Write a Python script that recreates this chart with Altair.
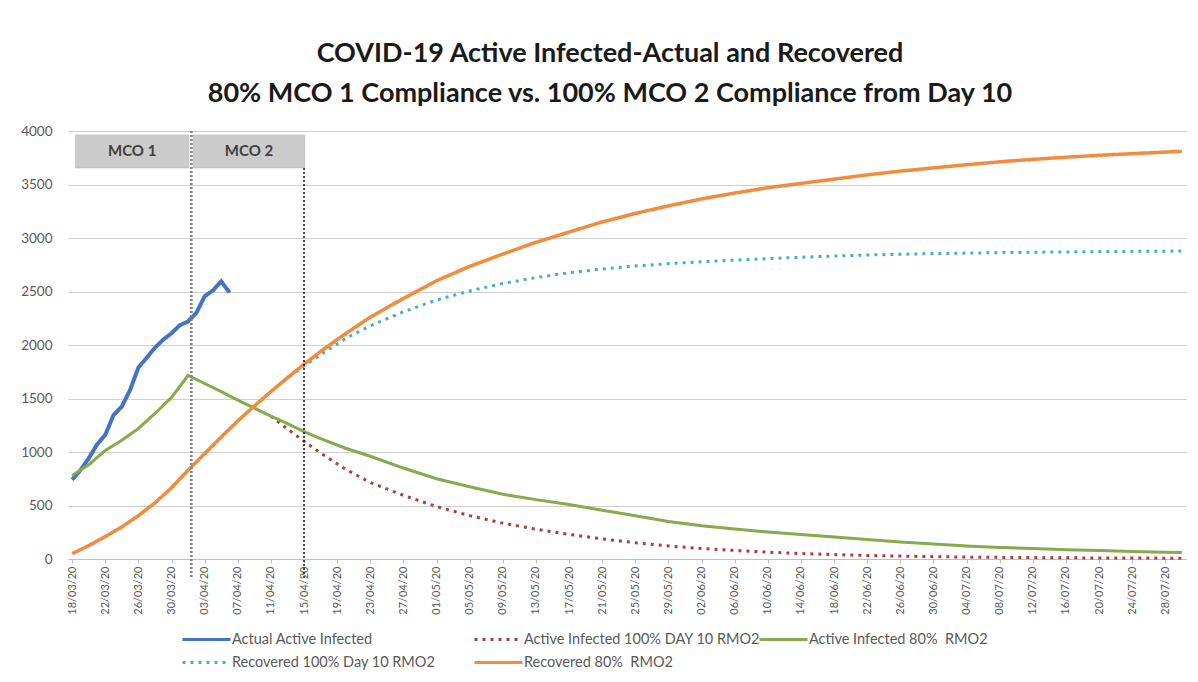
import altair as alt
import pandas as pd

BASE = pd.Timestamp("2020-03-18")

# ---- data ----
NAME_ACTUAL = "Actual Active Infected"
NAME_A100 = "Active Infected 100% DAY 10 RMO2"
NAME_A80 = "Active Infected 80%\u00a0 RMO2"
NAME_R100 = "Recovered 100% Day 10 RMO2"
NAME_R80 = "Recovered 80%\u00a0 RMO2"

# legend A (2 x 2 grid, filled column by column) and legend B (single entry)
legend_a_names = [NAME_ACTUAL, NAME_R100, NAME_A100, NAME_R80]
legend_a_colors = ["#4472C4", "#4BACC6", "#A8403C", "#F28B3C"]
legend_a_dashes = [[1, 0], [3, 5], [3, 5], [1, 0]]
legend_b_names = [NAME_A80]
legend_b_colors = ["#86AA4C"]

# drawing order and widths
draw_order = [NAME_ACTUAL, NAME_A100, NAME_A80, NAME_R100, NAME_R80]
draw_widths = [4, 3, 3, 3, 3.5]

# day offsets from 18/03/20
actual_days = list(range(0, 20))
actual_values = [740, 830, 940, 1070, 1160, 1345, 1425, 1580, 1790, 1880,
                 1975, 2050, 2110, 2185, 2220, 2300, 2455, 2510, 2595, 2490]

model_days = [0, 2, 4, 6, 8, 10, 12, 14, 16, 18, 20, 22, 24, 26, 28, 30, 33, 36,
              40, 44, 48, 52, 56, 60, 64, 68, 72, 76, 80, 84, 88, 92, 96, 100,
              104, 108, 112, 116, 120, 124, 128, 132, 134]

active80 = [780, 880, 1015, 1110, 1220, 1360, 1510, 1715, 1640, 1565, 1485, 1410,
            1335, 1265, 1190, 1125, 1035, 960, 850, 750, 675, 605, 555, 510, 455,
            405, 350, 310, 280, 252, 228, 205, 182, 160, 140, 122, 108, 97, 87, 79,
            71, 64, 60]

active100 = [None] * 12 + [1335, 1215, 1100, 990, 840, 715, 595, 490, 405, 335, 278,
                           230, 188, 152, 122, 98, 80, 64, 51, 41, 33, 27, 22, 18,
                           15, 13, 11, 10, 9, 8, 8]

recovered80 = [50, 125, 210, 300, 405, 525, 665, 830, 985, 1140, 1290, 1430, 1565,
               1695, 1820, 1940, 2105, 2260, 2435, 2600, 2735, 2850, 2960, 3055,
               3150, 3230, 3300, 3365, 3420, 3470, 3510, 3550, 3590, 3625, 3655,
               3685, 3712, 3735, 3755, 3773, 3788, 3803, 3810]

recovered100 = [None] * 12 + [1565, 1690, 1805, 1910, 2060, 2180, 2310, 2420, 2505,
                              2575, 2630, 2675, 2710, 2738, 2760, 2778, 2793, 2807,
                              2820, 2832, 2841, 2848, 2854, 2859, 2863, 2867, 2870,
                              2873, 2875, 2877, 2878]

tick_days = list(range(0, 133, 4))

box_labels = ["MCO 1", "MCO 2"]
box_start_days = [0.4, 14.6]
box_end_days = [14.1, 28.1]
box_top = [3963, 3963]
box_bottom = [3654, 3654]

rule_days = [14.4, 28.0]
rule_top = [4000, 3654]
rule_bottom = [-190, -190]


def day_str(d):
    return (BASE + pd.Timedelta(days=d)).strftime("%Y-%m-%dT%H:%M:%S")


def day_dt(d):
    t = BASE + pd.Timedelta(days=d)
    return alt.DateTime(year=t.year, month=t.month, date=t.day, hours=t.hour)


rows = []
for d, v in zip(actual_days, actual_values):
    rows.append({"date": day_str(d), "value": v, "series": NAME_ACTUAL})
for name, vals in [(NAME_A100, active100), (NAME_A80, active80),
                   (NAME_R100, recovered100), (NAME_R80, recovered80)]:
    for d, v in zip(model_days, vals):
        if v is not None:
            rows.append({"date": day_str(d), "value": v, "series": name})
df = pd.DataFrame(rows)

boxes = pd.DataFrame({
    "label": box_labels,
    "start": [day_str(d) for d in box_start_days],
    "end": [day_str(d) for d in box_end_days],
    "mid": [day_str((a + b) / 2) for a, b in zip(box_start_days, box_end_days)],
    "top": box_top,
    "bottom": box_bottom,
    "center": [(a + b) / 2 for a, b in zip(box_top, box_bottom)],
})

rules = pd.DataFrame({
    "date": [day_str(d) for d in rule_days],
    "top": rule_top,
    "bottom": rule_bottom,
    "id": [0, 1],
})

FONT = "Lato"
GREY = "#595959"

x_scale = alt.Scale(domain=[day_dt(-0.5), day_dt(134.5)])
x_axis = alt.Axis(
    title=None, values=[day_dt(d) for d in tick_days], format="%d/%m/%y",
    labelAngle=270, labelFont=FONT, labelFontSize=11, labelColor=GREY,
    labelPadding=3, tickSize=4, tickColor="#bfbfbf", domainColor="#bfbfbf",
    grid=False, labelOverlap=False,
)
y_scale = alt.Scale(domain=[0, 4000], nice=False)
y_axis = alt.Axis(
    title=None, values=list(range(0, 4001, 500)), domain=False, ticks=False,
    labelFont=FONT, labelFontSize=13.5, labelColor=GREY, labelPadding=16,
    gridColor="#d0d0d0", gridWidth=1, format="d",
)

legend_common = dict(
    title=None, orient="none", legendY=495, rowPadding=3,
    symbolType="M-2,0H2", symbolSize=576, symbolOffset=12, labelOffset=12,
    symbolStrokeWidth=3, labelFont=FONT, labelFontSize=14.5, labelColor=GREY,
    labelLimit=400,
)
legend_a = alt.Legend(legendX=113, columns=2, gridAlign="each", columnPadding=32,
                      **legend_common)
legend_b = alt.Legend(legendX=690, columns=1, **legend_common)

color_scale = alt.Scale(domain=legend_a_names, range=legend_a_colors)
dash_scale = alt.Scale(domain=legend_a_names, range=legend_a_dashes)
stroke_scale = alt.Scale(domain=legend_b_names, range=legend_b_colors)

X = alt.X("date:T", scale=x_scale, axis=x_axis)
Y = alt.Y("value:Q", scale=y_scale, axis=y_axis)

line_layers = []
for name, w in zip(draw_order, draw_widths):
    base = alt.Chart(df).transform_filter(alt.datum.series == name)
    if name in legend_b_names:
        layer = base.mark_line(strokeWidth=w).encode(
            x=X, y=Y,
            stroke=alt.Stroke("series:N", scale=stroke_scale, legend=legend_b),
        )
    else:
        layer = base.mark_line(strokeWidth=w).encode(
            x=X, y=Y,
            color=alt.Color("series:N", scale=color_scale, legend=legend_a),
            strokeDash=alt.StrokeDash("series:N", scale=dash_scale, legend=legend_a),
        )
    line_layers.append(layer)

box_layer = alt.Chart(boxes).mark_rect(fill="#cbcbcb", stroke="#b5b5b5", strokeWidth=0.5).encode(
    x=alt.X("start:T", scale=x_scale, axis=x_axis),
    x2="end:T",
    y=alt.Y("top:Q", scale=y_scale, axis=y_axis),
    y2="bottom:Q",
)
box_text = alt.Chart(boxes).mark_text(
    font=FONT, fontSize=15, fontWeight="bold", color="#404040", baseline="middle"
).encode(
    x=alt.X("mid:T", scale=x_scale, axis=x_axis),
    y=alt.Y("center:Q", scale=y_scale, axis=y_axis),
    text="label:N",
)

rule_base = alt.Chart(rules).encode(
    x=alt.X("date:T", scale=x_scale, axis=x_axis),
    y=alt.Y("top:Q", scale=y_scale, axis=y_axis),
    y2="bottom:Q",
)
rule1 = rule_base.transform_filter(alt.datum.id == 0).mark_rule(
    color="#7f7f7f", strokeWidth=2.5, strokeDash=[2, 2])
rule2 = rule_base.transform_filter(alt.datum.id == 1).mark_rule(
    color="#111111", strokeWidth=1.5, strokeDash=[2, 2])

chart = alt.layer(box_layer, box_text, *line_layers, rule1, rule2).properties(
    width=1118, height=428,
    autosize=alt.AutoSizeParams(type="none"),
    padding={"left": 60, "top": 123, "right": 4, "bottom": 115},
    title=alt.TitleParams(
        text=["COVID-19 Active Infected-Actual and Recovered",
              "80% MCO 1 Compliance vs. 100% MCO 2 Compliance from Day 10"],
        font=FONT, fontSize=27, fontWeight="bold", color="#1a1a1a",
        anchor="middle", offset=16, lineHeight=40, dx=-17,
    ),
).configure_view(stroke=None)

chart.save("out.html", embed_options={"renderer": "svg", "actions": False})
